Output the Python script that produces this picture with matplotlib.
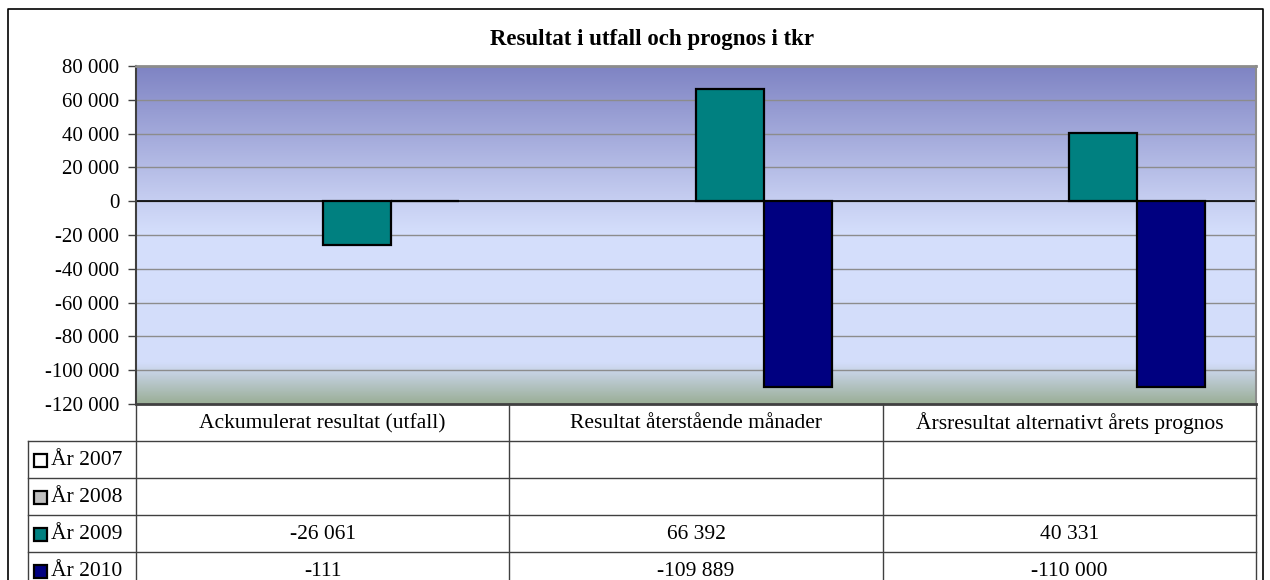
import numpy as np
import matplotlib
matplotlib.use("Agg")
import matplotlib.pyplot as plt
from matplotlib.colors import LinearSegmentedColormap
from matplotlib.patches import Rectangle

# ---- data ----
title = "Resultat i utfall och prognos i tkr"
categories = ["Ackumulerat resultat (utfall)", "Resultat återstående månader",
              "Årsresultat alternativt årets prognos"]
series_names = ["År 2007", "År 2008", "År 2009", "År 2010"]
values_2007 = [None, None, None]
values_2008 = [None, None, None]
values_2009 = [-26061, 66392, 40331]
values_2010 = [-111, -109889, -110000]
series_values = [values_2007, values_2008, values_2009, values_2010]
series_colors = ["#FFFFFF", "#C0C0C0", "#008080", "#000080"]
y_ticks = [-120000, -100000, -80000, -60000, -40000, -20000, 0, 20000, 40000, 60000, 80000]

plt.rcParams['font.family'] = ['Liberation Serif', 'DejaVu Serif']

W, H = 1270, 580
fig = plt.figure(figsize=(W / 100, H / 100), dpi=100)

def fx(px):
    return px / W

def fy(py):
    return 1 - py / H

# plot area in pixels
L, R, T, B = 136, 1256, 66, 404
ax = fig.add_axes([fx(L), fy(B), fx(R - L), (B - T) / H])

ymin, ymax = y_ticks[0], y_ticks[-1]
ax.set_xlim(-0.5, len(categories) - 0.5)
ax.set_ylim(ymin, ymax)

# gradient background
cmap = LinearSegmentedColormap.from_list("bg", [
    (0.0, "#9AAE96"), (0.12, "#D3DDFA"), (0.50, "#D5DFFC"),
    (0.62, "#C3CBEF"), (1.0, "#7E83C3")])
grad = np.linspace(0, 1, 256).reshape(-1, 1)
ax.imshow(grad, aspect="auto", cmap=cmap, origin="lower",
          extent=[-0.5, len(categories) - 0.5, ymin, ymax], zorder=0)

for t in y_ticks[1:-1]:
    ax.axhline(t, color="#8C8C8C", lw=1.0, zorder=1)
ax.axhline(0, color="#000000", lw=1.2, zorder=1)

n = len(series_names)
w = 68 / 373
x = np.arange(len(categories))
for i, (vals, col) in enumerate(zip(series_values, series_colors)):
    v = np.array([np.nan if a is None else a for a in vals], dtype=float)
    ax.bar(x + (i - (n - 1) / 2) * w, v, width=w, color=col,
           edgecolor="black", linewidth=1.6, zorder=3)

ax.set_yticks(y_ticks)
ax.set_yticklabels([f"{t:,}".replace(",", " ") for t in y_ticks], fontsize=15)
ax.tick_params(axis="y", length=6, width=1, color="#404040", pad=6)
ax.set_xticks([])
ax.spines["top"].set_color("#8C8C8C")
ax.spines["top"].set_linewidth(2)
ax.spines["right"].set_color("#8C8C8C")
ax.spines["right"].set_linewidth(1.5)
ax.spines["left"].set_color("#404040")
ax.spines["left"].set_linewidth(1.5)
ax.spines["bottom"].set_color("#404040")
ax.spines["bottom"].set_linewidth(2)

# overlay axes in pixel coords for title, table and border
ov2 = fig.add_axes([0, 0, 1, 1], zorder=5)
ov2.set_xlim(0, W)
ov2.set_ylim(H, 0)
ov2.axis("off")
ov2.patch.set_alpha(0)

# outer border
ov2.plot([8, 8, 1263, 1263], [H + 5, 9, 9, H + 5], color="black", lw=1.2)

ov2.text(652, 40, title, ha="center", va="center", fontsize=16.5,
         fontweight="bold")

# table
col_x = [L + k * (R - L) / len(categories) for k in range(len(categories) + 1)]
row_h = 37
rows_y = [B + k * row_h for k in range(n + 2)]
lc = "#404040"
for cx in col_x:
    ov2.plot([cx, cx], [B, H + 5], color=lc, lw=1)
ov2.plot([28, 28], [rows_y[1], H + 5], color=lc, lw=1)
for ry in rows_y[1:]:
    ov2.plot([28, R], [ry, ry], color=lc, lw=1)

for k, c in enumerate(categories):
    ov2.text((col_x[k] + col_x[k + 1]) / 2, (rows_y[0] + rows_y[1]) / 2 + 1, c,
             ha="center", va="center", fontsize=15.5)

def fmt(v):
    return f"{v:,}".replace(",", " ")

for i, (name, vals, col) in enumerate(zip(series_names, series_values, series_colors)):
    yc = (rows_y[i + 1] + rows_y[i + 2]) / 2 + 1
    ov2.add_patch(Rectangle((34, yc - 6.5), 13, 13, facecolor=col,
                            edgecolor="black", lw=1.6))
    ov2.text(51, yc, name, ha="left", va="center", fontsize=15.5)
    for k, v in enumerate(vals):
        if v is not None:
            ov2.text((col_x[k] + col_x[k + 1]) / 2, yc, fmt(v),
                     ha="center", va="center", fontsize=15.5)

fig.savefig("out.png", dpi=100)
